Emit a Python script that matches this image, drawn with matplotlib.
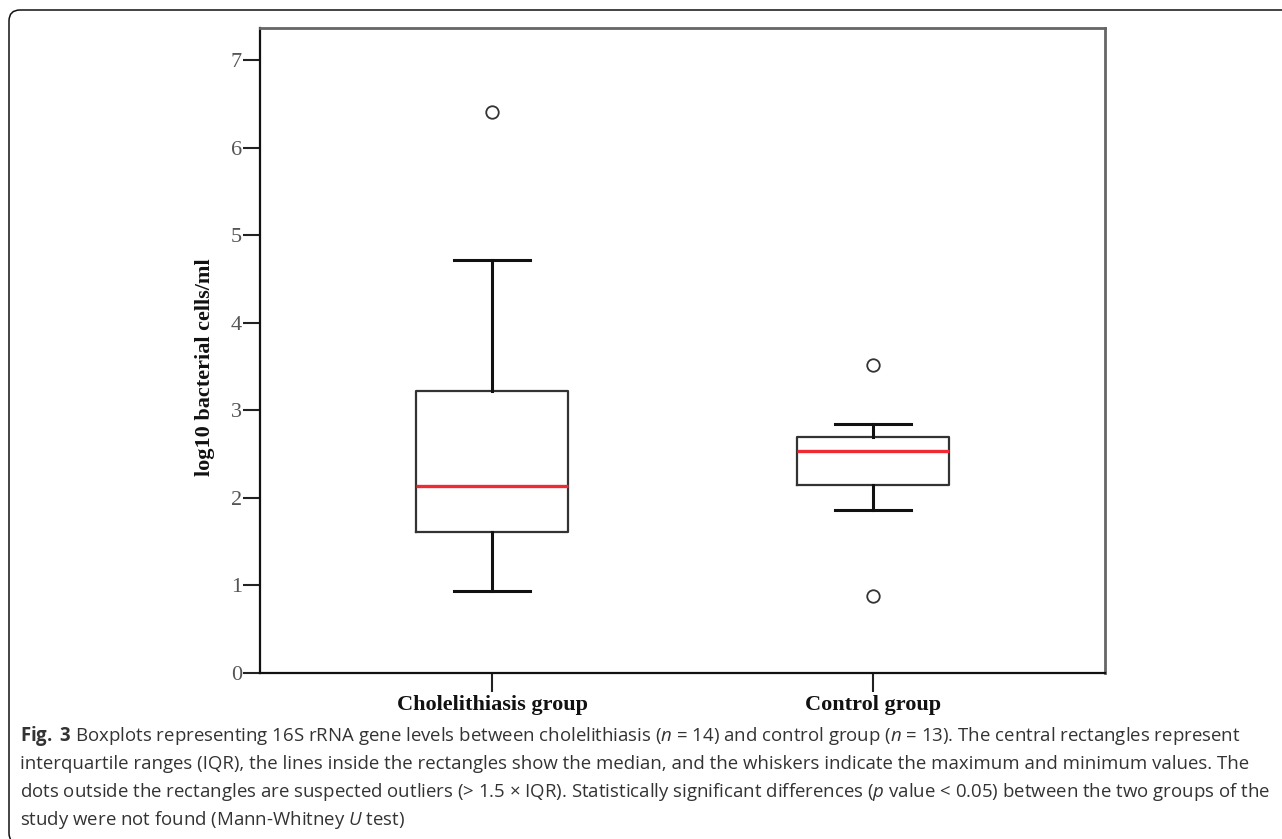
import matplotlib
matplotlib.use('Agg')
import matplotlib.pyplot as plt
from matplotlib.patches import FancyBboxPatch

# values (log10 bacterial cells/ml)
groups = ['Cholelithiasis group', 'Control group']
q1 = [1.61, 2.14]
medians = [2.13, 2.53]
q3 = [3.22, 2.69]
whisk_lo = [0.93, 1.86]
whisk_hi = [4.72, 2.84]
outliers = [[6.41], [3.52, 0.88]]
yticks = [0, 1, 2, 3, 4, 5, 6, 7]

caption = [
    r"$\mathbf{Fig.}$ $\mathbf{3}$ Boxplots representing 16S rRNA gene levels between cholelithiasis ($n$ = 14) and control group ($n$ = 13). The central rectangles represent",
    "interquartile ranges (IQR), the lines inside the rectangles show the median, and the whiskers indicate the maximum and minimum values. The",
    r"dots outside the rectangles are suspected outliers (> 1.5 × IQR). Statistically significant differences ($p$ value < 0.05) between the two groups of the",
    r"study were not found (Mann-Whitney $U$ test)",
]

plt.rcParams['mathtext.fontset'] = 'custom'
plt.rcParams['mathtext.rm'] = 'Open Sans'
plt.rcParams['mathtext.it'] = 'Open Sans:italic'
plt.rcParams['mathtext.bf'] = 'Open Sans:bold'

W, H = 1282, 839
fig = plt.figure(figsize=(W / 100, H / 100), dpi=100)

# outer rounded frame, runs off the right and bottom edges
frame = FancyBboxPatch((9, -5), 1320, 834, boxstyle='round,pad=0,rounding_size=11',
                       transform=None, fill=False, edgecolor='#111111', linewidth=1.1)
fig.patches.append(frame)

ax = fig.add_axes([260 / W, 1 - 672.5 / H, 845 / W, 644.5 / H])

stats = []
for i, g in enumerate(groups):
    stats.append(dict(label=g, med=medians[i], q1=q1[i], q3=q3[i],
                      whislo=whisk_lo[i], whishi=whisk_hi[i], fliers=outliers[i]))

ax.bxp(stats, positions=[1, 2], widths=0.4, showfliers=True,
       boxprops=dict(color='#333333', linewidth=1.6),
       whiskerprops=dict(color='#111111', linewidth=2.2),
       capprops=dict(color='#111111', linewidth=2.2),
       medianprops=dict(color='#ee2a35', linewidth=2.4),
       flierprops=dict(marker='o', markersize=9, markerfacecolor='none',
                       markeredgecolor='#333333', markeredgewidth=1.3))

ax.set_xlim(0.39, 2.61)
ax.set_ylim(0, 7.37)
ax.set_yticks(yticks)
ax.set_yticklabels([str(t) for t in yticks], family='Liberation Serif',
                   fontsize=16, color='#555555')
ax.set_xticks([1, 2])
ax.set_xticklabels(groups, family='Liberation Serif', fontweight='bold',
                   fontsize=16, color='#111111')
ax.tick_params(axis='y', length=12, width=1.5, color='#222222', pad=1)
ax.tick_params(axis='x', length=14, width=1.5, color='#222222', pad=2)

for s in ['left', 'bottom']:
    ax.spines[s].set_color('#111111')
    ax.spines[s].set_linewidth(1.6)
for s in ['top', 'right']:
    ax.spines[s].set_color('#666666')
    ax.spines[s].set_linewidth(2.0)

fig.text(205 / W, 1 - 367 / H, 'log10 bacterial cells/ml', rotation=90,
         ha='center', va='center', family='Liberation Serif',
         fontweight='bold', fontsize=16, color='#111111')

# caption, widest line fitted to the measured width
texts = []
for k, line in enumerate(caption):
    t = fig.text(20 / W, 1 - (736 + 28 * k) / H, line, ha='left', va='center',
                 family='Open Sans', fontsize=13, color='#333333')
    texts.append(t)
fig.canvas.draw()
r = fig.canvas.get_renderer()
w = max(t.get_window_extent(r).width for t in texts)
fs = 13 * 1245 / w
for t in texts:
    t.set_fontsize(fs)

fig.savefig('out.png', dpi=100)
